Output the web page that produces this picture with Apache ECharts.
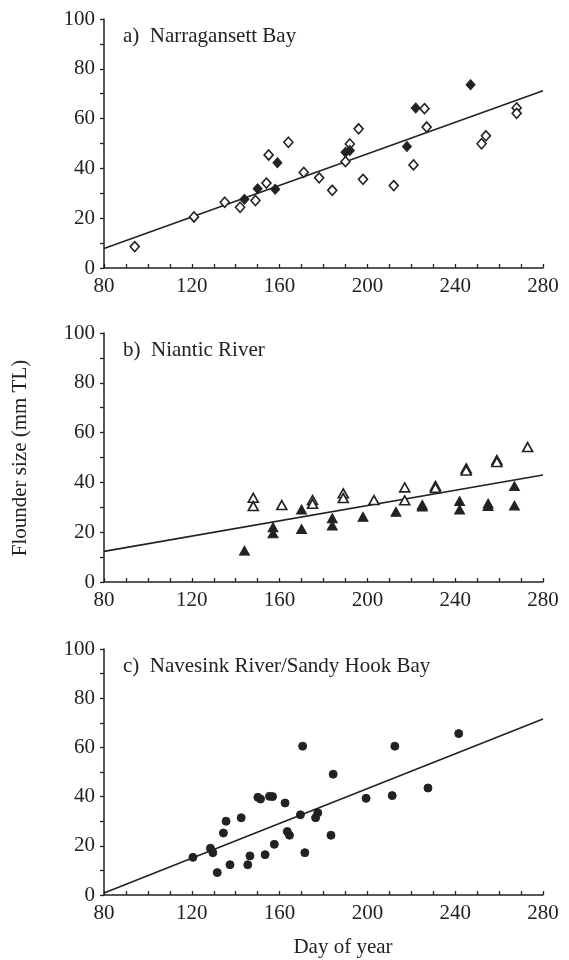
<!DOCTYPE html>
<html>
<head>
<meta charset="utf-8">
<title>Flounder size</title>
<script src="https://cdn.jsdelivr.net/npm/echarts@6/dist/echarts.min.js"></script>
<style>
	html,body{margin:0;padding:0;background:#fff;}
	#main{width:569px;height:960px;}
</style>
</head>
<body>
<div id="main"></div>
<script>
// axis ticks
var dayTicks=[80,120,160,200,240,280];
var sizeTicks=[0,20,40,60,80,100];
var panelTitles=['a)  Narragansett Bay','b)  Niantic River','c)  Navesink River/Sandy Hook Bay'];

// a) Narragansett Bay
var naOpen=[[94,8.6],[121,20.5],[135,26.4],[142,24.4],[149,27.1],[154,34.1],[155,45.4],[164,50.5],[171,38.4],[178,36.2],[184,31.2],[190,42.7],[192,49.8],[196,55.9],[198,35.6],[212,33.1],[221,41.4],[226,64],[227,56.6],[252,49.9],[254,53.1],[268,64.3],[268,62.1]];
var naFilled=[[144,27.6],[150,31.8],[158,31.6],[159,42.3],[190,46.5],[192,47.2],[218,48.8],[222,64.3],[247,73.6]];
var naLine=[[80,7.8],[280,71.2]];

// b) Niantic River
var niOpen=[[148,33.8],[148,30.5],[161,30.9],[175,32.9],[175,31.4],[189,35.6],[189,33.7],[203,32.9],[217,38],[217,32.8],[231,38.6],[231,37.8],[245,45.6],[245,44.8],[259,49],[259,48.2],[273,54.2]];
var niFilled=[[144,12.6],[157,22],[157,19.6],[170,29.1],[170,21.3],[184,25.6],[184,22.7],[198,26.2],[213,28.2],[225,31],[225,30.3],[242,32.5],[242,29.1],[255,31.5],[255,30.5],[267,38.5],[267,30.7]];
var niLine=[[80,12.3],[280,43]];

// c) Navesink River/Sandy Hook Bay
var nvData=[[120.5,15.3],[128.5,19],[129.6,17.2],[131.6,9.1],[134.4,25.2],[135.6,30],[137.4,12.3],[142.5,31.4],[145.5,12.3],[146.5,15.9],[150.1,39.7],[151.3,39],[153.4,16.4],[155.4,40.1],[156.8,40],[157.6,20.6],[162.5,37.4],[163.5,25.8],[164.5,24.3],[169.5,32.6],[170.5,60.5],[171.5,17.2],[176.4,31.4],[177.4,33.4],[183.4,24.3],[184.4,49.1],[199.4,39.3],[211.3,40.4],[212.5,60.5],[227.6,43.5],[241.6,65.6]];
var nvLine=[[80,0.8],[280,71.5]];

window.onload=function(){
	drawChart();
};
function drawChart(){
	var myChart=echarts.init(document.getElementById('main'));
	var ink='#222';
	var font='"Liberation Serif","Times New Roman",serif';
	var grids=[
		{left:104,right:26,top:19,height:249},
		{left:104,right:26,top:333,height:249},
		{left:104,right:26,top:649,height:246}
	];
	var xAxes=[],yAxes=[],titles=[];
	for(var i=0;i<3;i++){
		xAxes.push({
			type:'value',gridIndex:i,
			min:dayTicks[0],max:dayTicks[dayTicks.length-1],interval:dayTicks[1]-dayTicks[0],
			axisLine:{lineStyle:{color:ink,width:1.5}},
			axisTick:{inside:true,length:4,lineStyle:{color:ink,width:1.3}},
			minorTick:{show:true,splitNumber:4,length:4,lineStyle:{color:ink,width:1.3}},
			splitLine:{show:false},
			axisLabel:{color:ink,fontSize:21,fontFamily:font,margin:8}
		});
		yAxes.push({
			type:'value',gridIndex:i,
			min:sizeTicks[0],max:sizeTicks[sizeTicks.length-1],interval:sizeTicks[1]-sizeTicks[0],
			axisLine:{show:true,lineStyle:{color:ink,width:1.5}},
			axisTick:{show:true,length:4,lineStyle:{color:ink,width:1.3}},
			minorTick:{show:true,splitNumber:2,length:4,lineStyle:{color:ink,width:1.3}},
			splitLine:{show:false},
			axisLabel:{color:ink,fontSize:21,fontFamily:font,margin:9}
		});
		titles.push({
			type:'text',left:123,top:grids[i].top+7,
			style:{text:panelTitles[i],fill:ink,font:'21px '+font}
		});
	}
	titles.push({
		type:'text',x:20,y:458,rotation:Math.PI/2,
		style:{text:'Flounder size (mm TL)',fill:ink,font:'21px '+font,textAlign:'center',textVerticalAlign:'middle'}
	});
	titles.push({
		type:'text',x:343,y:947,
		style:{text:'Day of year',fill:ink,font:'21px '+font,textAlign:'center',textVerticalAlign:'middle'}
	});
	function fitLine(data,idx){
		return {type:'line',xAxisIndex:idx,yAxisIndex:idx,data:data,symbol:'none',silent:true,
			lineStyle:{color:ink,width:1.6},z:2};
	}
	function dots(data,idx,sym,size,filled){
		return {type:'scatter',xAxisIndex:idx,yAxisIndex:idx,data:data,symbol:sym,symbolSize:size,z:3,
			itemStyle:{color:filled?ink:'#fff',borderColor:ink,borderWidth:filled?1:1.6,opacity:1}};
	}
	var option={
		animation:false,
		grid:grids,
		xAxis:xAxes,
		yAxis:yAxes,
		graphic:titles,
		series:[
			fitLine(naLine,0),
			dots(naOpen,0,'diamond',[9,10],false),
			dots(naFilled,0,'diamond',[9,10],true),
			fitLine(niLine,1),
			dots(niOpen,1,'triangle',[10,9],false),
			dots(niFilled,1,'triangle',[10,9],true),
			fitLine(nvLine,2),
			dots(nvData,2,'circle',8,true)
		]
	};
	myChart.setOption(option);
}
</script>
</body>
</html>
